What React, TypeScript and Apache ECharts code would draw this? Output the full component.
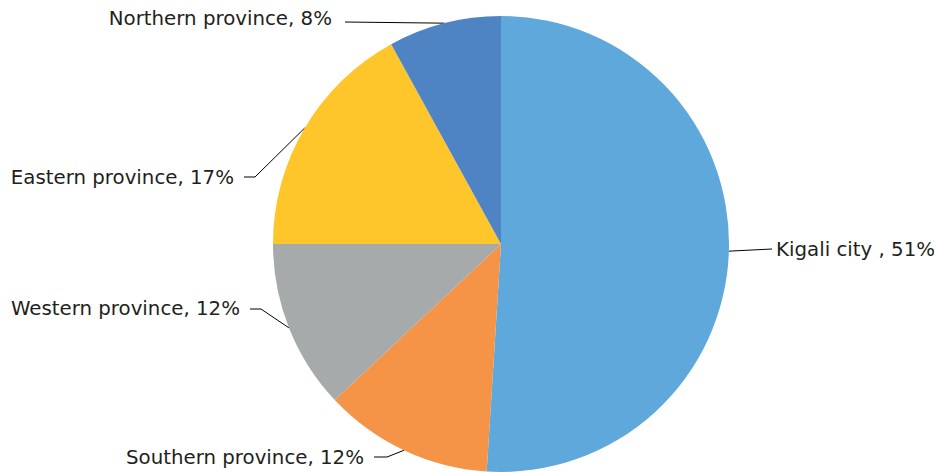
import React, { useEffect, useRef } from "react";
import * as echarts from "echarts";

const categories = [
  "Kigali city ",
  "Southern province",
  "Western province",
  "Eastern province",
  "Northern province",
];
const shares = [51, 12, 12, 17, 8];
const colors = ["#5FA8DC", "#F59447", "#A7AAAB", "#FEC62A", "#4F84C4"];

// label placement (text anchor, line end, optional elbow)
const labelPlacement = [
  { x: 776, y: 249, align: "left", end: [772, 249], elbow: null as number[] | null },
  { x: 364, y: 457, align: "right", end: [374, 457], elbow: [387, 457] },
  { x: 240, y: 308, align: "right", end: [250, 309], elbow: [261, 309] },
  { x: 234, y: 177, align: "right", end: [244, 177], elbow: [255, 177] },
  { x: 332, y: 18, align: "right", end: [345, 22], elbow: null as number[] | null },
];

export default function App() {
  const ref = useRef<HTMLDivElement>(null);
  useEffect(() => {
    document.body.style.margin = "0";
    const chart = echarts.init(ref.current!, undefined, { renderer: "svg" });
    const cx = 501;
    const cy = 244;
    const r = 228;
    const total = shares.reduce((a, b) => a + b, 0);
    chart.setOption({
      animation: false,
      backgroundColor: "#ffffff",
      series: [
        {
          type: "pie",
          center: [cx, cy],
          radius: [0, r],
          startAngle: 90,
          clockwise: true,
          avoidLabelOverlap: false,
          itemStyle: { borderWidth: 0 },
          label: {
            show: true,
            formatter: (p: any) => `${p.name}, ${p.value}%`,
            fontFamily: "DejaVu Sans",
            fontSize: 19.8,
            color: "#231F20",
          },
          labelLine: {
            show: true,
            lineStyle: { color: "#000000", width: 1 },
          },
          labelLayout: (params: any) => {
            const i = params.dataIndex;
            const lp = labelPlacement[i];
            let before = 0;
            for (let k = 0; k < i; k++) before += shares[k];
            const mid = ((before + shares[i] / 2) / total) * Math.PI * 2;
            const start =
              params.labelLinePoints && params.labelLinePoints[0]
                ? params.labelLinePoints[0]
                : [cx + r * Math.sin(mid), cy - r * Math.cos(mid)];
            const pts = lp.elbow ? [start, lp.elbow, lp.end] : [start, lp.end, lp.end];
            return {
              x: lp.x,
              y: lp.y,
              align: lp.align,
              verticalAlign: "middle",
              labelLinePoints: pts,
            };
          },
          data: categories.map((name, i) => ({
            name,
            value: shares[i],
            itemStyle: { color: colors[i] },
          })),
        },
      ],
    });
    return () => chart.dispose();
  }, []);
  return <div ref={ref} style={{ width: 934, height: 472 }} />;
}
